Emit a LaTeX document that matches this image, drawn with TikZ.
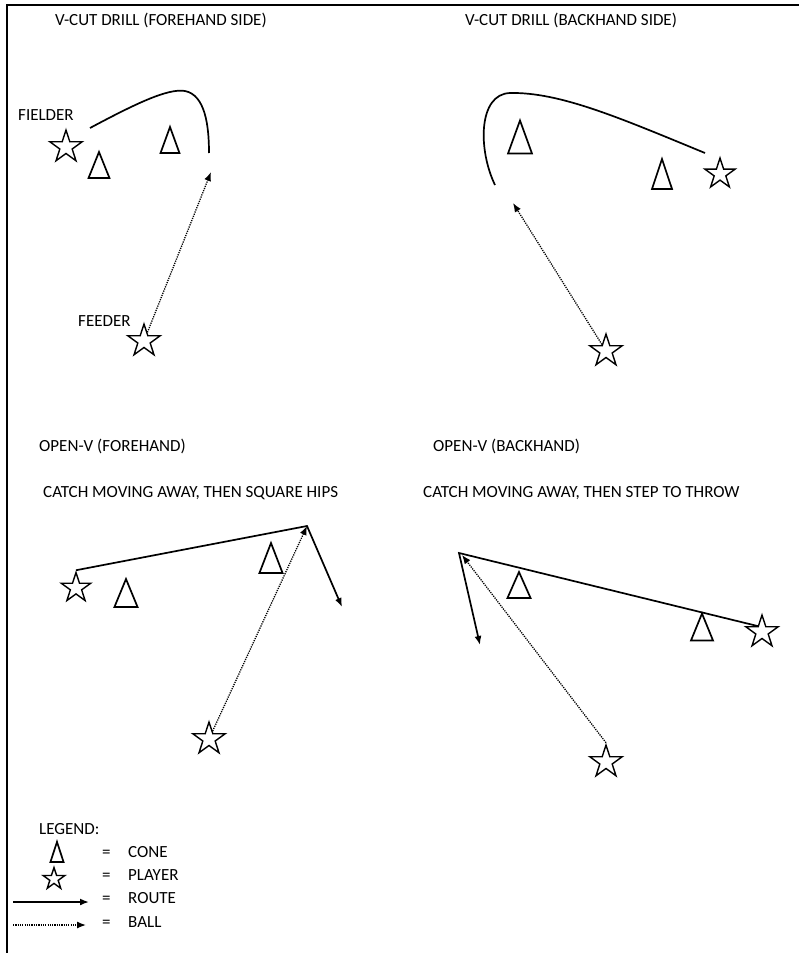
\documentclass[tikz,border=0pt]{standalone}
\usepackage{fontspec}
\setmainfont{Carlito}
\usetikzlibrary{shapes.geometric,arrows.meta}
\begin{document}
\begin{tikzpicture}[x=1pt,y=-1pt,
  lbl/.style={anchor=base west,inner sep=0pt,font=\fontsize{17}{20}\selectfont},
  player/.style={star,star points=5,star point ratio=2.618,draw,line width=1.4pt,inner sep=0pt,minimum size=#1},
  player/.default=34pt,
  route/.style={line width=1.7pt},
  routearrow/.style={route,-{Latex[length=9pt,width=7pt]}},
  ball/.style={line width=1.3pt,dash pattern=on 1.2pt off 1.1pt,-{Latex[length=9pt,width=7pt]}},
  border/.style={line width=2pt},
  cone/.pic={\draw[line width=1.7pt,line join=miter] (-11,14) -- (0,-14) -- (11,14) -- cycle;}
]
\useasboundingbox (0,0) rectangle (799,953);
% border
\coordinate (bl) at (7,953); \coordinate (tl) at (7,5); \coordinate (tr) at (799,5);
\draw[border] (bl) -- (tl) -- (tr);

% ---- panel 1
\node[lbl] (t1) at (55,25) {V-CUT DRILL (FOREHAND SIDE)};
\node[lbl] (fl1) at (18,120) {FIELDER};
\node[player] (f1) at (66,147) {};
\pic[xscale=.95,yscale=.93] at (99,165) {cone};
\pic[xscale=.86,yscale=.93] at (170,140) {cone};
\coordinate (c1s) at (90,128); \coordinate (c1e) at (209,153);
\draw[route] (c1s) .. controls (135,104) and (168,88) .. (185,91) .. controls (205,95) and (209,125) .. (c1e);
\node[lbl] (fdl1) at (78,326) {FEEDER};
\node[player] (fd1) at (144,341) {};
\coordinate (b1) at (211,172);
\draw[ball] (fd1) -- (b1);

% ---- panel 2
\node[lbl] (t2) at (465,25) {V-CUT DRILL (BACKHAND SIDE)};
\coordinate (c2s) at (705,153); \coordinate (c2e) at (495,185);
\draw[route] (c2s) .. controls (620,118) and (560,92) .. (510,93) .. controls (478,94) and (478,150) .. (c2e);
\pic[xscale=1.09,yscale=1.18] at (520,137) {cone};
\pic[xscale=.91,yscale=1.07] at (662,174) {cone};
\node[player=32pt] (f2) at (720,174) {};
\node[player] (fd2) at (606,351) {};
\coordinate (b2) at (513,203);
\draw[ball] (fd2) -- (b2);

% ---- panel 3
\node[lbl] (t3) at (39,451) {OPEN-V (FOREHAND)};
\node[lbl] (s3) at (43,497) {CATCH MOVING AWAY, THEN SQUARE HIPS};
\node[player=31pt] (f3) at (76,588) {};
\pic[xscale=1.05,yscale=1] at (126,593) {cone};
\pic[xscale=1.05,yscale=1.07] at (271,558) {cone};
\coordinate (a3) at (307,526); \coordinate (r3) at (342,607);
\draw[routearrow] (f3.outer point 1) -- (a3) -- (r3);
\node[player] (fd3) at (209,739) {};
\draw[ball] (fd3) -- (a3);

% ---- panel 4
\node[lbl] (t4) at (433,451) {OPEN-V (BACKHAND)};
\node[lbl] (s4) at (423,497) {CATCH MOVING AWAY, THEN STEP TO THROW};
\pic[xscale=1.05,yscale=.93] at (519,585) {cone};
\pic[xscale=1,yscale=.96] at (702,627) {cone};
\node[player] (f4) at (762,632) {};
\coordinate (a4) at (459,553); \coordinate (r4) at (480,645);
\draw[routearrow] (f4.inner point 1) -- (a4) -- (r4);
\node[player] (fd4) at (606,762) {};
\coordinate (b4) at (462,555);
\draw[ball] (fd4.outer point 1) -- (b4);

% ---- legend
\node[lbl] (lg) at (39,834) {LEGEND:};
\pic[xscale=.6,yscale=.72] at (57,852) {cone};
\node[player=23pt] (lp) at (54,879) {};
\coordinate (lr1) at (13,902); \coordinate (lr2) at (89,902);
\draw[routearrow] (lr1) -- (lr2);
\coordinate (lb1) at (13,925); \coordinate (lb2) at (86,925);
\draw[ball] (lb1) -- (lb2);
\node[lbl] (e1) at (102,857) {=}; \node[lbl] (n1) at (128,857) {CONE};
\node[lbl] (e2) at (102,880) {=}; \node[lbl] (n2) at (128,880) {PLAYER};
\node[lbl] (e3) at (102,903) {=}; \node[lbl] (n3) at (128,903) {ROUTE};
\node[lbl] (e4) at (102,927) {=}; \node[lbl] (n4) at (128,927) {BALL};
\end{tikzpicture}
\end{document}
